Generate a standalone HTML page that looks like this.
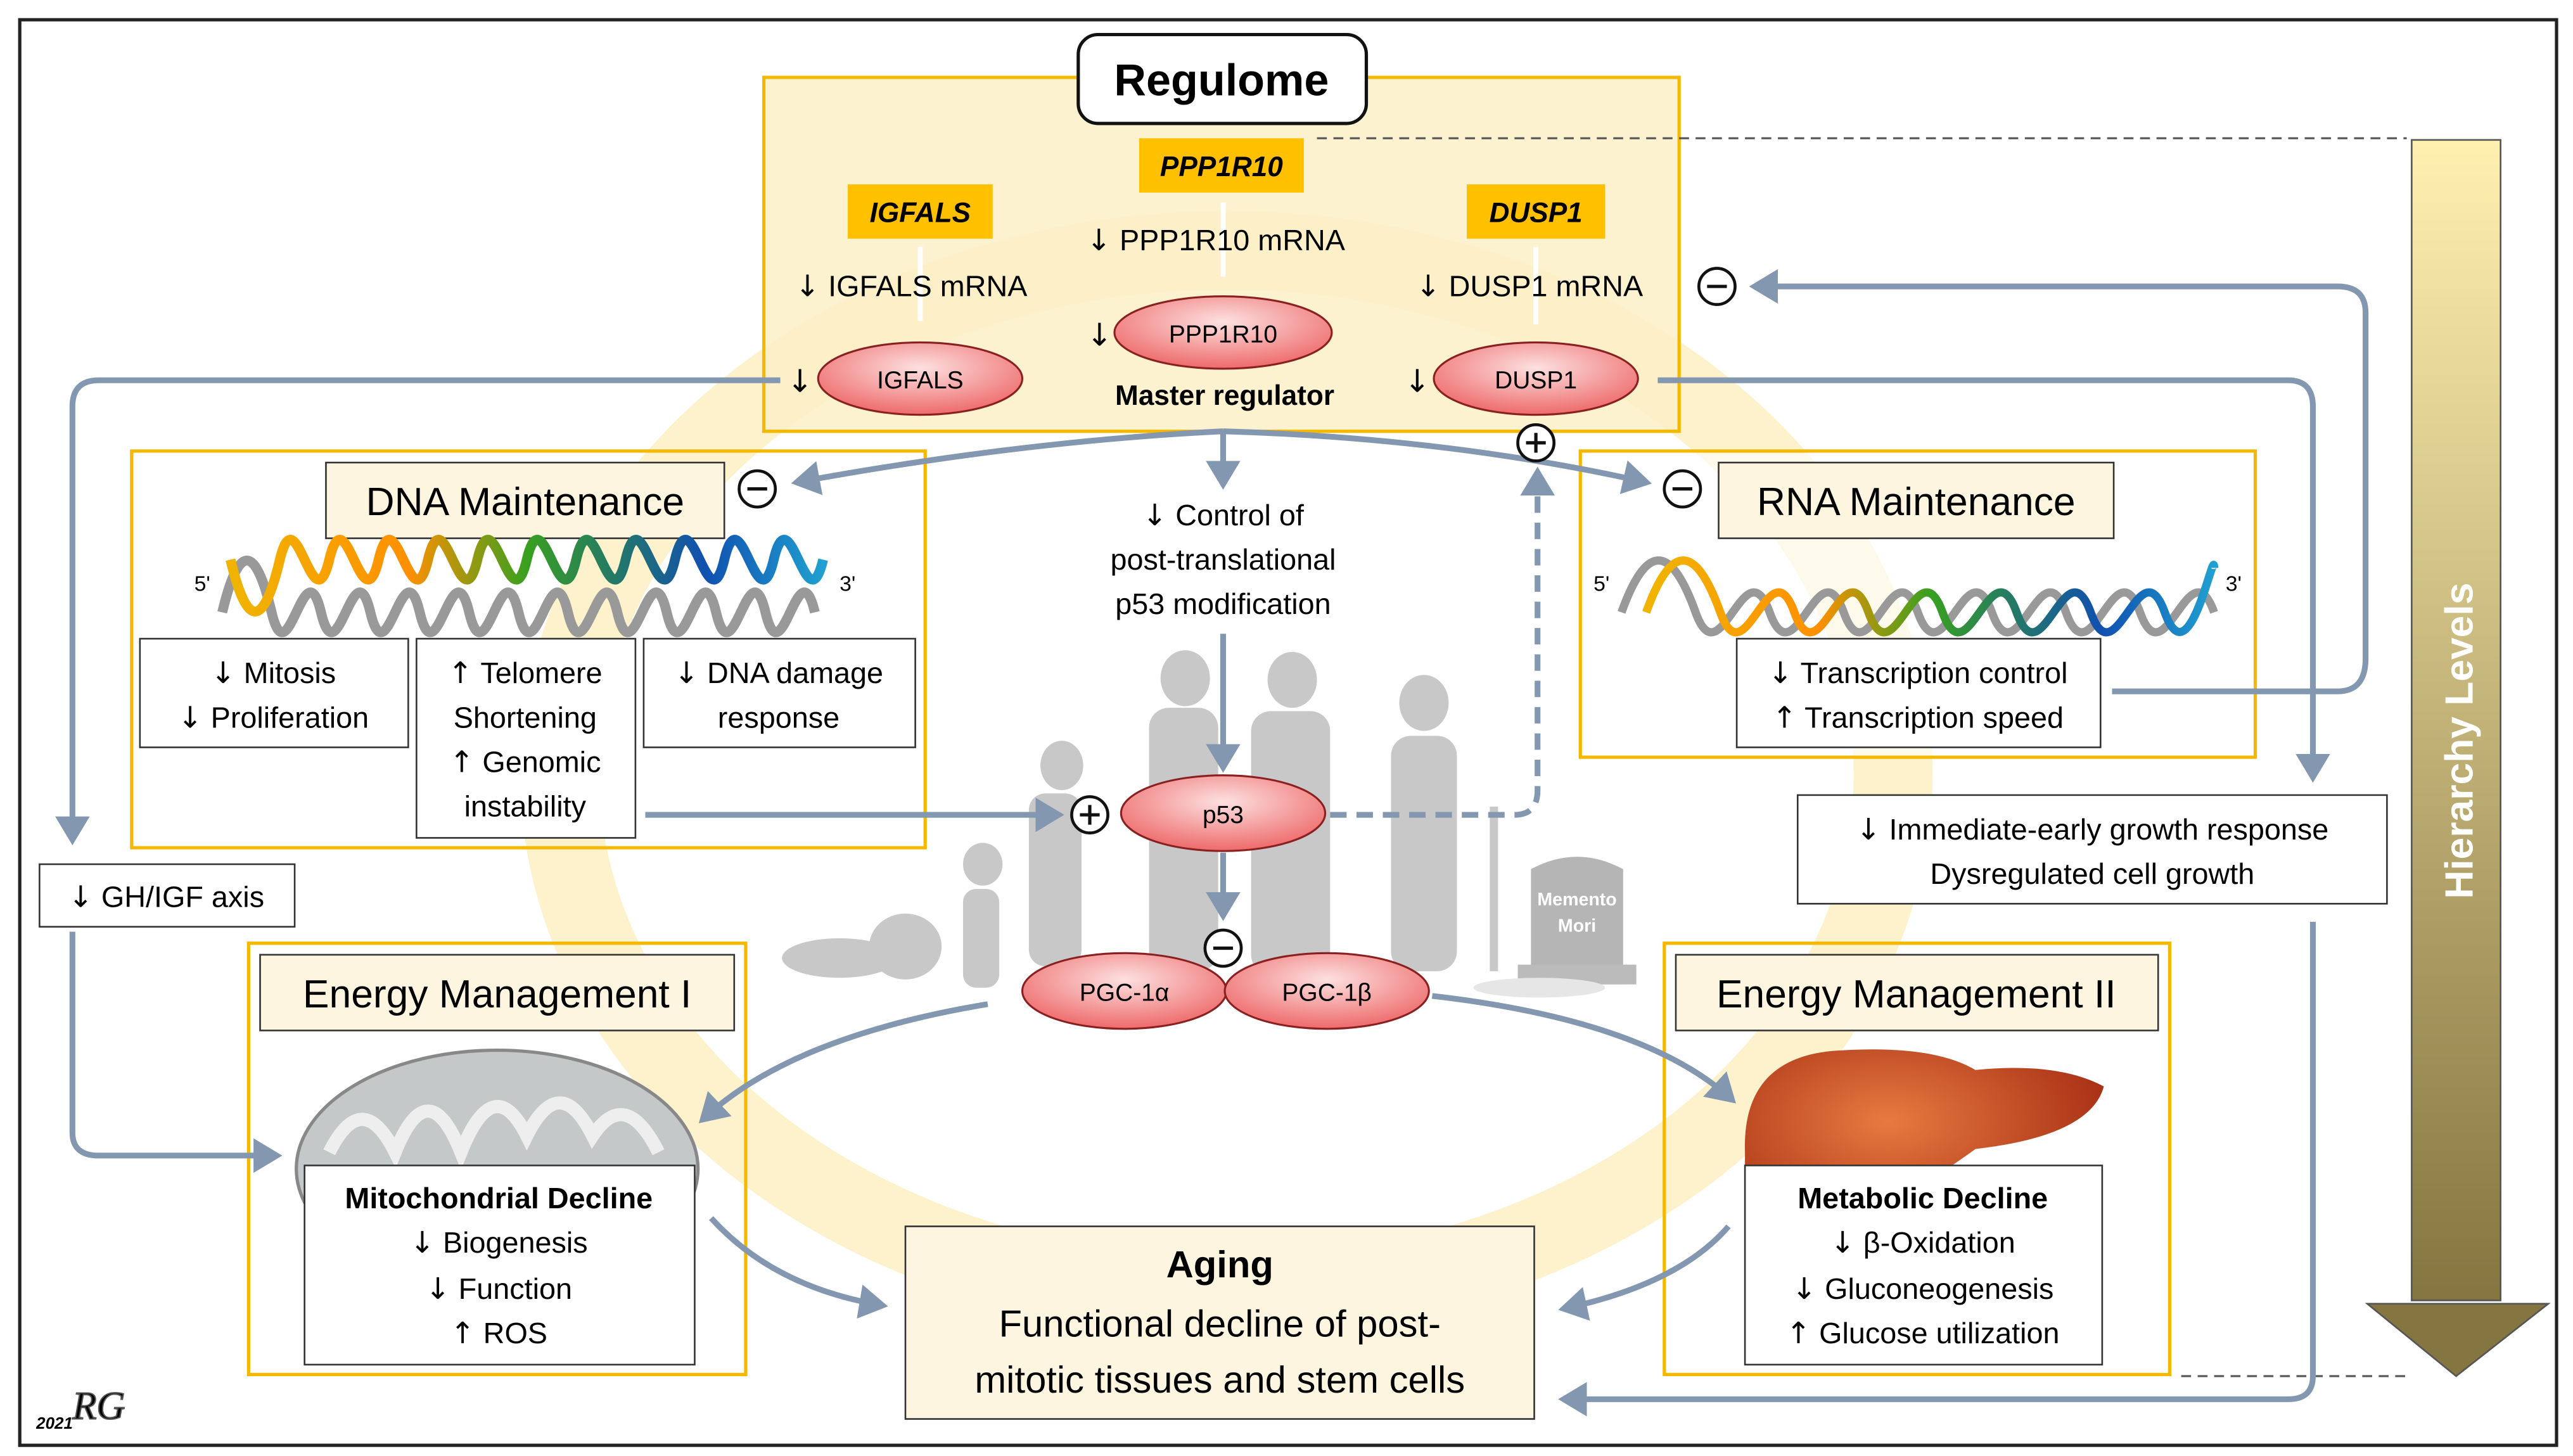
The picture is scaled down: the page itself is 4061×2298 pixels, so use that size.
<!DOCTYPE html>
<html><head><meta charset="utf-8"><style>
html,body{margin:0;padding:0;background:#fff}
svg{display:block}
text{font-family:"Liberation Sans",Arial,sans-serif;fill:#000}
.a{font-family:"DejaVu Sans",sans-serif}
</style></head><body>
<svg width="4061" height="2298" viewBox="0 0 1563 884.5" preserveAspectRatio="none" xmlns="http://www.w3.org/2000/svg">
<defs>
<marker id="ah" markerWidth="6" markerHeight="6" refX="4" refY="3" orient="auto" markerUnits="strokeWidth"><path d="M0,0 L5,3 L0,6 z" fill="#8497b0"/></marker>
<radialGradient id="pk" cx="50%" cy="35%" r="65%"><stop offset="0" stop-color="#fde0e0"/><stop offset="1" stop-color="#ee6a6a"/></radialGradient>
<linearGradient id="hg" x1="0" y1="0" x2="0" y2="1"><stop offset="0" stop-color="#fff0b0"/><stop offset="1" stop-color="#857540"/></linearGradient>
<linearGradient id="dna" x1="0" y1="0" x2="1" y2="0"><stop offset="0" stop-color="#f0b400"/><stop offset="0.3" stop-color="#ff9000"/><stop offset="0.5" stop-color="#38a020"/><stop offset="0.8" stop-color="#1050b0"/><stop offset="1" stop-color="#20a0d0"/></linearGradient>
<radialGradient id="lv" cx="40%" cy="35%" r="70%"><stop offset="0" stop-color="#e87a40"/><stop offset="1" stop-color="#a02810"/></radialGradient>
</defs>
<rect x="12" y="12" width="1541" height="866" fill="#fff" stroke="#222" stroke-width="2"/>
<ellipse cx="745" cy="470" rx="405" ry="318" fill="none" stroke="#fdf2cc" stroke-width="48"/>
<g fill="#c8c8c8">
<ellipse cx="510" cy="582" rx="35" ry="12"/><ellipse cx="550" cy="575" rx="22" ry="20"/>
<ellipse cx="597" cy="525" rx="12" ry="13"/><rect x="585" y="540" width="22" height="60" rx="8"/>
<ellipse cx="645" cy="465" rx="13" ry="15"/><rect x="625" y="482" width="32" height="105" rx="10"/>
<ellipse cx="720" cy="412" rx="15" ry="17"/><rect x="698" y="430" width="42" height="160" rx="12"/>
<ellipse cx="785" cy="413" rx="15" ry="17"/><rect x="760" y="432" width="48" height="160" rx="12"/>
<ellipse cx="865" cy="427" rx="15" ry="17"/><rect x="845" y="447" width="40" height="143" rx="12"/>
<rect x="905" y="490" width="5" height="100"/>
<path d="M930,598 L930,528 Q958,513 986,528 L986,598 z" fill="#b5b5b5"/>
<rect x="922" y="586" width="72" height="12" fill="#bbb"/>
</g>
<text x="958" y="550" font-size="11" font-weight="bold" text-anchor="middle" style="fill:#fff">Memento</text>
<text x="958" y="566" font-size="11" font-weight="bold" text-anchor="middle" style="fill:#fff">Mori</text>
<ellipse cx="935" cy="600" rx="40" ry="6" fill="#e6e6e6"/>
<rect x="464" y="47" width="556" height="215" fill="#fdf0c8" fill-opacity="0.85" stroke="#f5b800" stroke-width="2"/>
<rect x="655" y="21" width="175" height="54" rx="12" fill="#fff" stroke="#111" stroke-width="2"/>
<text x="742" y="58" font-size="27" font-weight="bold" text-anchor="middle">Regulome</text>
<rect x="515" y="112" width="88" height="33" fill="#ffc000"/><text x="559" y="135" font-size="17" font-weight="bold" font-style="italic" text-anchor="middle">IGFALS</text>
<rect x="692" y="84" width="100" height="33" fill="#ffc000"/><text x="742" y="107" font-size="17" font-weight="bold" font-style="italic" text-anchor="middle">PPP1R10</text>
<rect x="891" y="112" width="84" height="33" fill="#ffc000"/><text x="933" y="135" font-size="17" font-weight="bold" font-style="italic" text-anchor="middle">DUSP1</text>
<g stroke="#fff" stroke-width="3" fill="none"><path d="M559,150 L559,195"/><path d="M743,123 L743,168"/><path d="M933,150 L933,197"/></g>
<text x="483" y="180" font-size="18"><tspan class="a">↓</tspan> IGFALS mRNA</text>
<text x="660" y="152" font-size="18"><tspan class="a">↓</tspan> PPP1R10 mRNA</text>
<text x="860" y="180" font-size="18"><tspan class="a">↓</tspan> DUSP1 mRNA</text>
<text x="478" y="238" font-size="19" class="a">↓</text><text x="660" y="210" font-size="19" class="a">↓</text><text x="853" y="238" font-size="19" class="a">↓</text>
<g stroke="#8a2020" stroke-width="1.2" fill="url(#pk)">
<ellipse cx="559" cy="230" rx="62" ry="22"/><ellipse cx="743" cy="202" rx="66" ry="22"/><ellipse cx="933" cy="230" rx="62" ry="22"/>
<ellipse cx="743" cy="494" rx="62" ry="23"/><ellipse cx="683" cy="602" rx="62" ry="23"/><ellipse cx="806" cy="602" rx="62" ry="23"/>
</g>
<text x="559" y="236" font-size="15" text-anchor="middle">IGFALS</text>
<text x="743" y="208" font-size="15" text-anchor="middle">PPP1R10</text>
<text x="933" y="236" font-size="15" text-anchor="middle">DUSP1</text>
<text x="743" y="500" font-size="15" text-anchor="middle">p53</text>
<text x="683" y="608" font-size="15" text-anchor="middle">PGC-1α</text>
<text x="806" y="608" font-size="15" text-anchor="middle">PGC-1β</text>
<text x="744" y="246" font-size="17" font-weight="bold" text-anchor="middle">Master regulator</text>
<rect x="80" y="274" width="482" height="241" fill="none" stroke="#f5b800" stroke-width="2"/>
<rect x="198" y="281" width="242" height="46" fill="#fdf5e0" stroke="#333"/>
<text x="319" y="313" font-size="24" text-anchor="middle">DNA Maintenance</text>
<text x="118" y="359" font-size="13">5'</text><text x="510" y="359" font-size="13">3'</text>
<path d="M135,372 C145,330 155,330 165,372 S185,330 195,372 S215,330 225,372 S245,330 255,372 S275,330 285,372 S305,330 315,372 S335,330 345,372 S365,330 375,372 S395,330 405,372 S425,330 435,372 S455,330 465,372 S485,330 495,372" fill="none" stroke="#999" stroke-width="6"/>
<path d="M140,340 C150,382 160,382 170,340 S190,382 200,340 S220,382 230,340 S250,382 260,340 S280,382 290,340 S310,382 320,340 S340,382 350,340 S370,382 380,340 S400,382 410,340 S430,382 440,340 S460,382 470,340 S490,382 500,340" fill="none" stroke="url(#dna)" stroke-width="6"/>
<rect x="85" y="388" width="163" height="66" fill="#fff" stroke="#333"/>
<text x="166" y="415" font-size="18" text-anchor="middle"><tspan class="a">↓</tspan> Mitosis</text><text x="166" y="442" font-size="18" text-anchor="middle"><tspan class="a">↓</tspan> Proliferation</text>
<rect x="253" y="388" width="133" height="121" fill="#fff" stroke="#333"/>
<text x="319" y="415" font-size="18" text-anchor="middle"><tspan class="a">↑</tspan> Telomere</text><text x="319" y="442" font-size="18" text-anchor="middle">Shortening</text><text x="319" y="469" font-size="18" text-anchor="middle"><tspan class="a">↑</tspan> Genomic</text><text x="319" y="496" font-size="18" text-anchor="middle">instability</text>
<rect x="391" y="388" width="165" height="66" fill="#fff" stroke="#333"/>
<text x="473" y="415" font-size="18" text-anchor="middle"><tspan class="a">↓</tspan> DNA damage</text><text x="473" y="442" font-size="18" text-anchor="middle">response</text>
<rect x="960" y="274" width="410" height="186" fill="#fff" fill-opacity="0.6" stroke="#f5b800" stroke-width="2"/>
<rect x="1044" y="281" width="240" height="46" fill="#fdf5e0" stroke="#333"/>
<text x="1164" y="313" font-size="24" text-anchor="middle">RNA Maintenance</text>
<text x="968" y="359" font-size="13">5'</text><text x="1352" y="359" font-size="13">3'</text>
<path d="M985,372 C1000,330 1015,330 1030,372 S1060,330 1075,372 S1105,330 1120,372 S1150,330 1165,372 S1195,330 1210,372 S1240,330 1255,372 S1285,330 1300,372 S1330,330 1345,372" fill="none" stroke="#999" stroke-width="5"/>
<path d="M1000,372 C1015,330 1030,330 1045,372 S1075,330 1090,372 S1120,330 1135,372 S1165,330 1180,372 S1210,330 1225,372 S1255,330 1270,372 S1300,330 1315,372 S1345,330 1345,345" fill="none" stroke="url(#dna)" stroke-width="5"/>
<rect x="1055" y="388" width="221" height="66" fill="#fff" stroke="#333"/>
<text x="1165" y="415" font-size="18" text-anchor="middle"><tspan class="a">↓</tspan> Transcription control</text><text x="1165" y="442" font-size="18" text-anchor="middle"><tspan class="a">↑</tspan> Transcription speed</text>
<text x="743" y="319" font-size="18" text-anchor="middle"><tspan class="a">↓</tspan> Control of</text>
<text x="743" y="346" font-size="18" text-anchor="middle">post-translational</text>
<text x="743" y="373" font-size="18" text-anchor="middle">p53 modification</text>
<rect x="24" y="525" width="155" height="38" fill="#fff" stroke="#333"/><text x="101" y="551" font-size="18" text-anchor="middle"><tspan class="a">↓</tspan> GH/IGF axis</text>
<rect x="1092" y="483" width="358" height="66" fill="#fff" stroke="#333"/>
<text x="1271" y="510" font-size="18" text-anchor="middle"><tspan class="a">↓</tspan> Immediate-early growth response</text><text x="1271" y="537" font-size="18" text-anchor="middle">Dysregulated cell growth</text>
<rect x="151" y="573" width="302" height="262" fill="none" stroke="#f5b800" stroke-width="2"/>
<rect x="158" y="580" width="288" height="46" fill="#fdf5e0" stroke="#333"/>
<text x="302" y="612" font-size="24" text-anchor="middle">Energy Management I</text>
<ellipse cx="302" cy="710" rx="122" ry="72" fill="#c5c8c8" stroke="#888" stroke-width="2"/>
<path d="M200,700 Q220,660 240,700 Q260,650 280,700 Q300,650 320,690 Q340,650 360,690 Q380,660 400,700" fill="none" stroke="#eee" stroke-width="8"/>
<rect x="185" y="708" width="237" height="121" fill="#fff" stroke="#333"/>
<text x="303" y="734" font-size="18" font-weight="bold" text-anchor="middle">Mitochondrial Decline</text>
<text x="303" y="761" font-size="18" text-anchor="middle"><tspan class="a">↓</tspan> Biogenesis</text><text x="303" y="789" font-size="18" text-anchor="middle"><tspan class="a">↓</tspan> Function</text><text x="303" y="816" font-size="18" text-anchor="middle"><tspan class="a">↑</tspan> ROS</text>
<rect x="1011" y="573" width="307" height="262" fill="none" stroke="#f5b800" stroke-width="2"/>
<rect x="1018" y="580" width="293" height="46" fill="#fdf5e0" stroke="#333"/>
<text x="1164" y="612" font-size="24" text-anchor="middle">Energy Management II</text>
<path d="M1060,700 Q1058,640 1120,638 Q1175,635 1200,650 Q1250,645 1278,660 Q1270,690 1200,698 Q1170,720 1100,760 Q1075,770 1060,730 z" fill="url(#lv)"/>
<rect x="1060" y="708" width="217" height="121" fill="#fff" stroke="#333"/>
<text x="1168" y="734" font-size="18" font-weight="bold" text-anchor="middle">Metabolic Decline</text>
<text x="1168" y="761" font-size="18" text-anchor="middle"><tspan class="a">↓</tspan> β-Oxidation</text><text x="1168" y="789" font-size="18" text-anchor="middle"><tspan class="a">↓</tspan> Gluconeogenesis</text><text x="1168" y="816" font-size="18" text-anchor="middle"><tspan class="a">↑</tspan> Glucose utilization</text>
<rect x="550" y="745" width="382" height="117" fill="#fdf5e0" stroke="#333"/>
<text x="741" y="776" font-size="23" font-weight="bold" text-anchor="middle">Aging</text>
<text x="741" y="812" font-size="23" text-anchor="middle">Functional decline of post-</text>
<text x="741" y="846" font-size="23" text-anchor="middle">mitotic tissues and stem cells</text>
<rect x="1465" y="85" width="54" height="705" fill="url(#hg)" stroke="#555"/>
<path d="M1438,792 L1548,792 L1492,836 z" fill="#857540" stroke="#555"/>
<text transform="translate(1502,450) rotate(-90)" font-size="24" font-weight="bold" text-anchor="middle" style="fill:#fff">Hierarchy Levels</text>
<g stroke="#555" stroke-dasharray="6,4" stroke-width="1.2"><path d="M800,84 L1462,84"/><path d="M1325,836 L1462,836"/></g>
<g stroke="#8497b0" stroke-width="3.5" fill="none" marker-end="url(#ah)">
<path d="M474,231 L60,231 Q44,231 44,247 L44,510"/>
<path d="M44,566 L44,688 Q44,702 60,702 L168,702"/>
<path d="M743,262 L743,294"/>
<path d="M743,262 Q620,268 484,293"/>
<path d="M743,262 Q880,266 1000,293"/>
<path d="M743,385 L743,466"/>
<path d="M743,518 L743,556"/>
<path d="M392,495 L643,495"/>
<path d="M808,495 L920,495 Q934,495 934,480 L934,287" stroke-dasharray="10,6"/>
<path d="M1007,231 L1390,231 Q1405,231 1405,247 L1405,472"/>
<path d="M1283,420 L1420,420 Q1437,420 1437,400 L1437,190 Q1437,174 1420,174 L1066,174"/>
<path d="M1405,560 L1405,836 Q1405,850 1390,850 L950,850"/>
<path d="M600,610 Q480,630 427,680"/>
<path d="M870,605 Q1000,620 1052,668"/>
<path d="M432,740 Q470,782 536,793"/>
<path d="M1050,745 Q1020,780 950,795"/>
</g>
<g fill="#fff" stroke="#111" stroke-width="1.8">
<circle cx="460" cy="297" r="11"/><circle cx="1022" cy="297" r="11"/><circle cx="1043" cy="174" r="11"/><circle cx="743" cy="576" r="11"/>
<circle cx="662" cy="495" r="11"/><circle cx="933" cy="269" r="11"/>
</g>
<g stroke="#111" stroke-width="2">
<path d="M454,297 H466"/><path d="M1016,297 H1028"/><path d="M1037,174 H1049"/><path d="M737,576 H749"/>
<path d="M656,495 H668 M662,489 V501"/><path d="M927,269 H939 M933,263 V275"/>
</g>
<text x="22" y="868" font-size="10" font-style="italic" font-weight="bold" fill="#333">2021</text>
<text x="44" y="862" font-size="24" font-style="italic" fill="#fff" stroke="#555" stroke-width="0.8" style="font-family:'Liberation Serif',serif">RG</text>
</svg>
</body></html>
